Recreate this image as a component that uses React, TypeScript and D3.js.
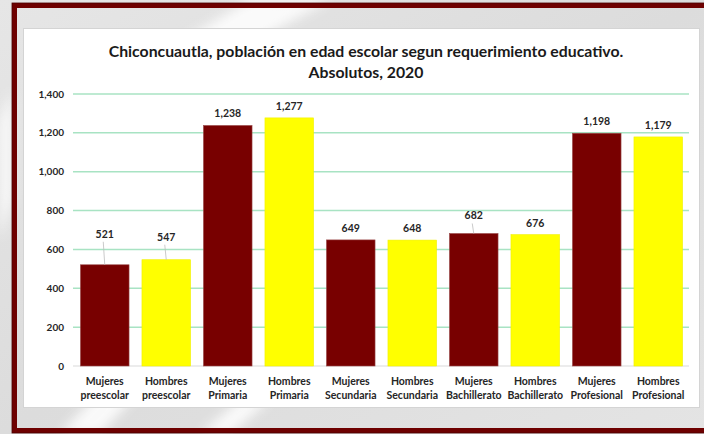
import React from 'react';
import * as d3 from 'd3';

const categories = [
  'Mujeres preescolar', 'Hombres preescolar',
  'Mujeres Primaria', 'Hombres Primaria',
  'Mujeres Secundaria', 'Hombres Secundaria',
  'Mujeres Bachillerato', 'Hombres Bachillerato',
  'Mujeres Profesional', 'Hombres Profesional',
];
const values = [521, 547, 1238, 1277, 649, 648, 682, 676, 1198, 1179];
const yTicks = [0, 200, 400, 600, 800, 1000, 1200, 1400];
const titleLines = [
  'Chiconcuautla, población en edad escolar segun requerimiento educativo.',
  'Absolutos, 2020',
];

// labels that were dragged up in the original, with a leader line
const labelLift: Record<string, number> = {
  'Mujeres preescolar': 19,
  'Hombres preescolar': 11,
  'Mujeres Bachillerato': 6,
};

const W = 704;
const H = 434;
const font = 'Lato, "Open Sans", sans-serif';
const MAROON = '#780000';
const YELLOW = '#ffff00';

export default function App() {
  const x = d3.scaleBand<string>()
    .domain(categories)
    .range([74, 689])
    .paddingInner(0.21)
    .paddingOuter(0.105);
  const y = d3.scaleLinear().domain([0, 1400]).range([366, 94]);
  const fmt = d3.format(',');

  return (
    <svg width={W} height={H} style={{ position: 'absolute', left: 0, top: 0, display: 'block' }}
      fontFamily={font}>
      <defs>
        <linearGradient id="bg" x1="0" y1="0" x2="1" y2="1">
          <stop offset="0" stopColor="#e6e6e6" />
          <stop offset="0.5" stopColor="#dcdcdc" />
          <stop offset="1" stopColor="#e4e4e4" />
        </linearGradient>
        <filter id="blur"><feGaussianBlur stdDeviation="6" /></filter>
      </defs>

      {/* textured backdrop */}
      <rect x={0} y={0} width={W} height={H} fill="url(#bg)" />
      <g filter="url(#blur)" fill="#ffffff" opacity={0.85}>
        <polygon points="250,0 330,0 220,60 150,60" />
        <polygon points="0,120 12,90 12,200 0,240" />
        <polygon points="60,434 110,380 150,380 100,434" />
        <polygon points="200,434 240,400 270,400 230,434" />
      </g>

      {/* maroon frame */}
      <rect x={14.5} y={5.5} width={W + 10} height={425} fill="none" stroke="#6e0000" strokeWidth={5} />
      <rect x={12} y={3} width={W + 10} height={430} fill="none" stroke="#4a0000" strokeWidth={0.8} />

      {/* chart area */}
      <rect x={23.5} y={28.5} width={676} height={379} fill="#ffffff" stroke="#d4d4d4" />

      {titleLines.map((t, i) => (
        <text key={t} x={366} y={57 + i * 21} textAnchor="middle" fontSize={15.8}
          fontWeight="bold" fill="#1a1a1a">{t}</text>
      ))}

      {/* grid + y axis */}
      {yTicks.map(v => (
        <g key={v}>
          <line x1={73} x2={689} y1={y(v)} y2={y(v)}
            stroke={v === 0 ? '#d9d9d9' : '#a8e3c3'} strokeWidth={v === 0 ? 1 : 1.5} />
          <text x={64} y={y(v)} dy="0.35em" textAnchor="end" fontSize={10}
            fontWeight="bold" fill="#262626">{fmt(v)}</text>
        </g>
      ))}

      {/* bars */}
      {categories.map((c, i) => {
        const bx = x(c)!;
        const top = y(values[i]);
        const cx = bx + x.bandwidth() / 2;
        const lift = labelLift[c] || 0;
        const ly = top - 8 - lift;
        return (
          <g key={c}>
            <rect x={bx} y={top} width={x.bandwidth()} height={y(0) - top}
              fill={c.startsWith('Mujeres') ? MAROON : YELLOW}
              stroke={c.startsWith('Mujeres') ? '#9a4a4a' : '#f0f000'} strokeWidth={0.6} />
            {lift > 0 && (
              <line x1={cx - 1.5} y1={ly + 4} x2={cx} y2={top} stroke="#bdbdbd" strokeWidth={0.8} />
            )}
            <text x={cx} y={ly} textAnchor="middle" fontSize={10.5} fontWeight="bold"
              fill="#262626">{fmt(values[i])}</text>
            {c.split(' ').map((w, k) => (
              <text key={w} x={cx} y={385 + k * 13.5} textAnchor="middle" fontSize={10.5}
                fontWeight="bold" fill="#262626">{w}</text>
            ))}
          </g>
        );
      })}
    </svg>
  );
}
